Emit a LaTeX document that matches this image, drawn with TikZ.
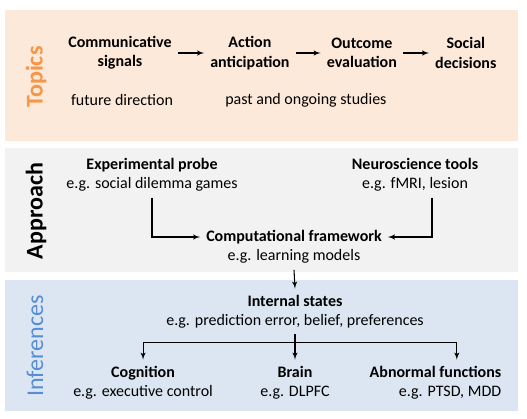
\documentclass[tikz,border=0pt]{standalone}
\usepackage{fontspec}
\setmainfont{Carlito}
\usepackage{tikz}
\usetikzlibrary{shapes,arrows}
\usetikzlibrary{positioning,calc}
\usepackage{xcolor}
\definecolor{topicsbg}{HTML}{FDE9D9}
\definecolor{approachbg}{HTML}{F2F2F2}
\definecolor{inferbg}{HTML}{DCE6F2}
\definecolor{topicsfg}{HTML}{F79646}
\definecolor{inferfg}{HTML}{558ED5}
\tikzstyle{line} = [draw, -latex', line width=0.8pt]
\tikzstyle{side} = [rotate=90, inner sep=0pt, font=\fontsize{18}{20}\selectfont]
\tikzstyle{sidebf} = [rotate=90, inner sep=0pt, font=\fontsize{18}{20}\selectfont\bfseries]
\tikzstyle{topic} = [rectangle, text centered, align=center, inner sep=4.5pt, font=\bfseries]
\tikzstyle{item} = [rectangle, text centered, align=center, inner sep=4.5pt]

\begin{document}
\begin{tikzpicture}[x=0.75pt,y=0.75pt]
\fontsize{12}{14.5}\selectfont
\useasboundingbox (0,0) rectangle (527,418);

% panels
\fill[topicsbg] (5,408) rectangle (518,277);
\fill[approachbg] (5,270) rectangle (518,146);
\fill[inferbg] (5,138) rectangle (518,7);

\node (topics_lbl) [sidebf, text=topicsfg] at (36,341) {Topics};
\node (approach_lbl) [sidebf] at (36,207) {Approach};
\node (infer_lbl) [side, text=inferfg] at (35,72) {Inferences};

% topics
\node (comm) [topic] at (120,365) {Communicative\\signals};
\node (act) [topic, right of=comm, xshift=69pt] {Action\\anticipation};
\node (outc) [topic, right of=act, xshift=55.5pt] {Outcome\\evaluation};
\node (soc) [topic, right of=outc, xshift=49.5pt] {Social\\decisions};
\node (future) [item, below of=comm, yshift=-6.8pt, xshift=1.5pt] {future direction};
\node (past) [item] at ($(act)!0.5!(outc)+(0,-47)$) {past and ongoing studies};

\draw[line] (comm) -- (act);
\draw[line] (act) -- (outc);
\draw[line] (outc) -- (soc);

% approach
\node (exp) [item] at (152,243) {\textbf{Experimental probe}\\e.g. social dilemma games};
\node (neuro) [item] at (415,243) {\textbf{Neuroscience tools}\\e.g. fMRI, lesion};
\node (comp) [item] at (294,171) {\textbf{Computational framework}\\e.g. learning models};

\draw[line] (exp.south) |- ([yshift=7.5pt]comp.west);
\draw[line] ([xshift=12.75pt]neuro.south) |- ([yshift=7.5pt]comp.east);

% inferences
\node (int) [item] at (295,106.5) {\textbf{Internal states}\\e.g. prediction error, belief, preferences};
\node (brain) [item, below of=int, yshift=-24.8pt] {\textbf{Brain}\\e.g. DLPFC};
\node (cog) [item, left of=brain, xshift=-85.5pt] {\textbf{Cognition}\\e.g. executive control};
\node (abn) [item, align=right, right of=brain, xshift=76.9pt] {\textbf{Abnormal functions}\\e.g. PTSD, MDD};

\draw[line] (comp.south) -- (int.north);
\coordinate (split) at ([yshift=-6pt]int.south);
\draw[line] (int.south) -- (brain.north);
\draw[line] (split) -| (cog.north);
\draw[line] (split) -| ([xshift=16pt]abn.north);

\end{tikzpicture}
\end{document}
